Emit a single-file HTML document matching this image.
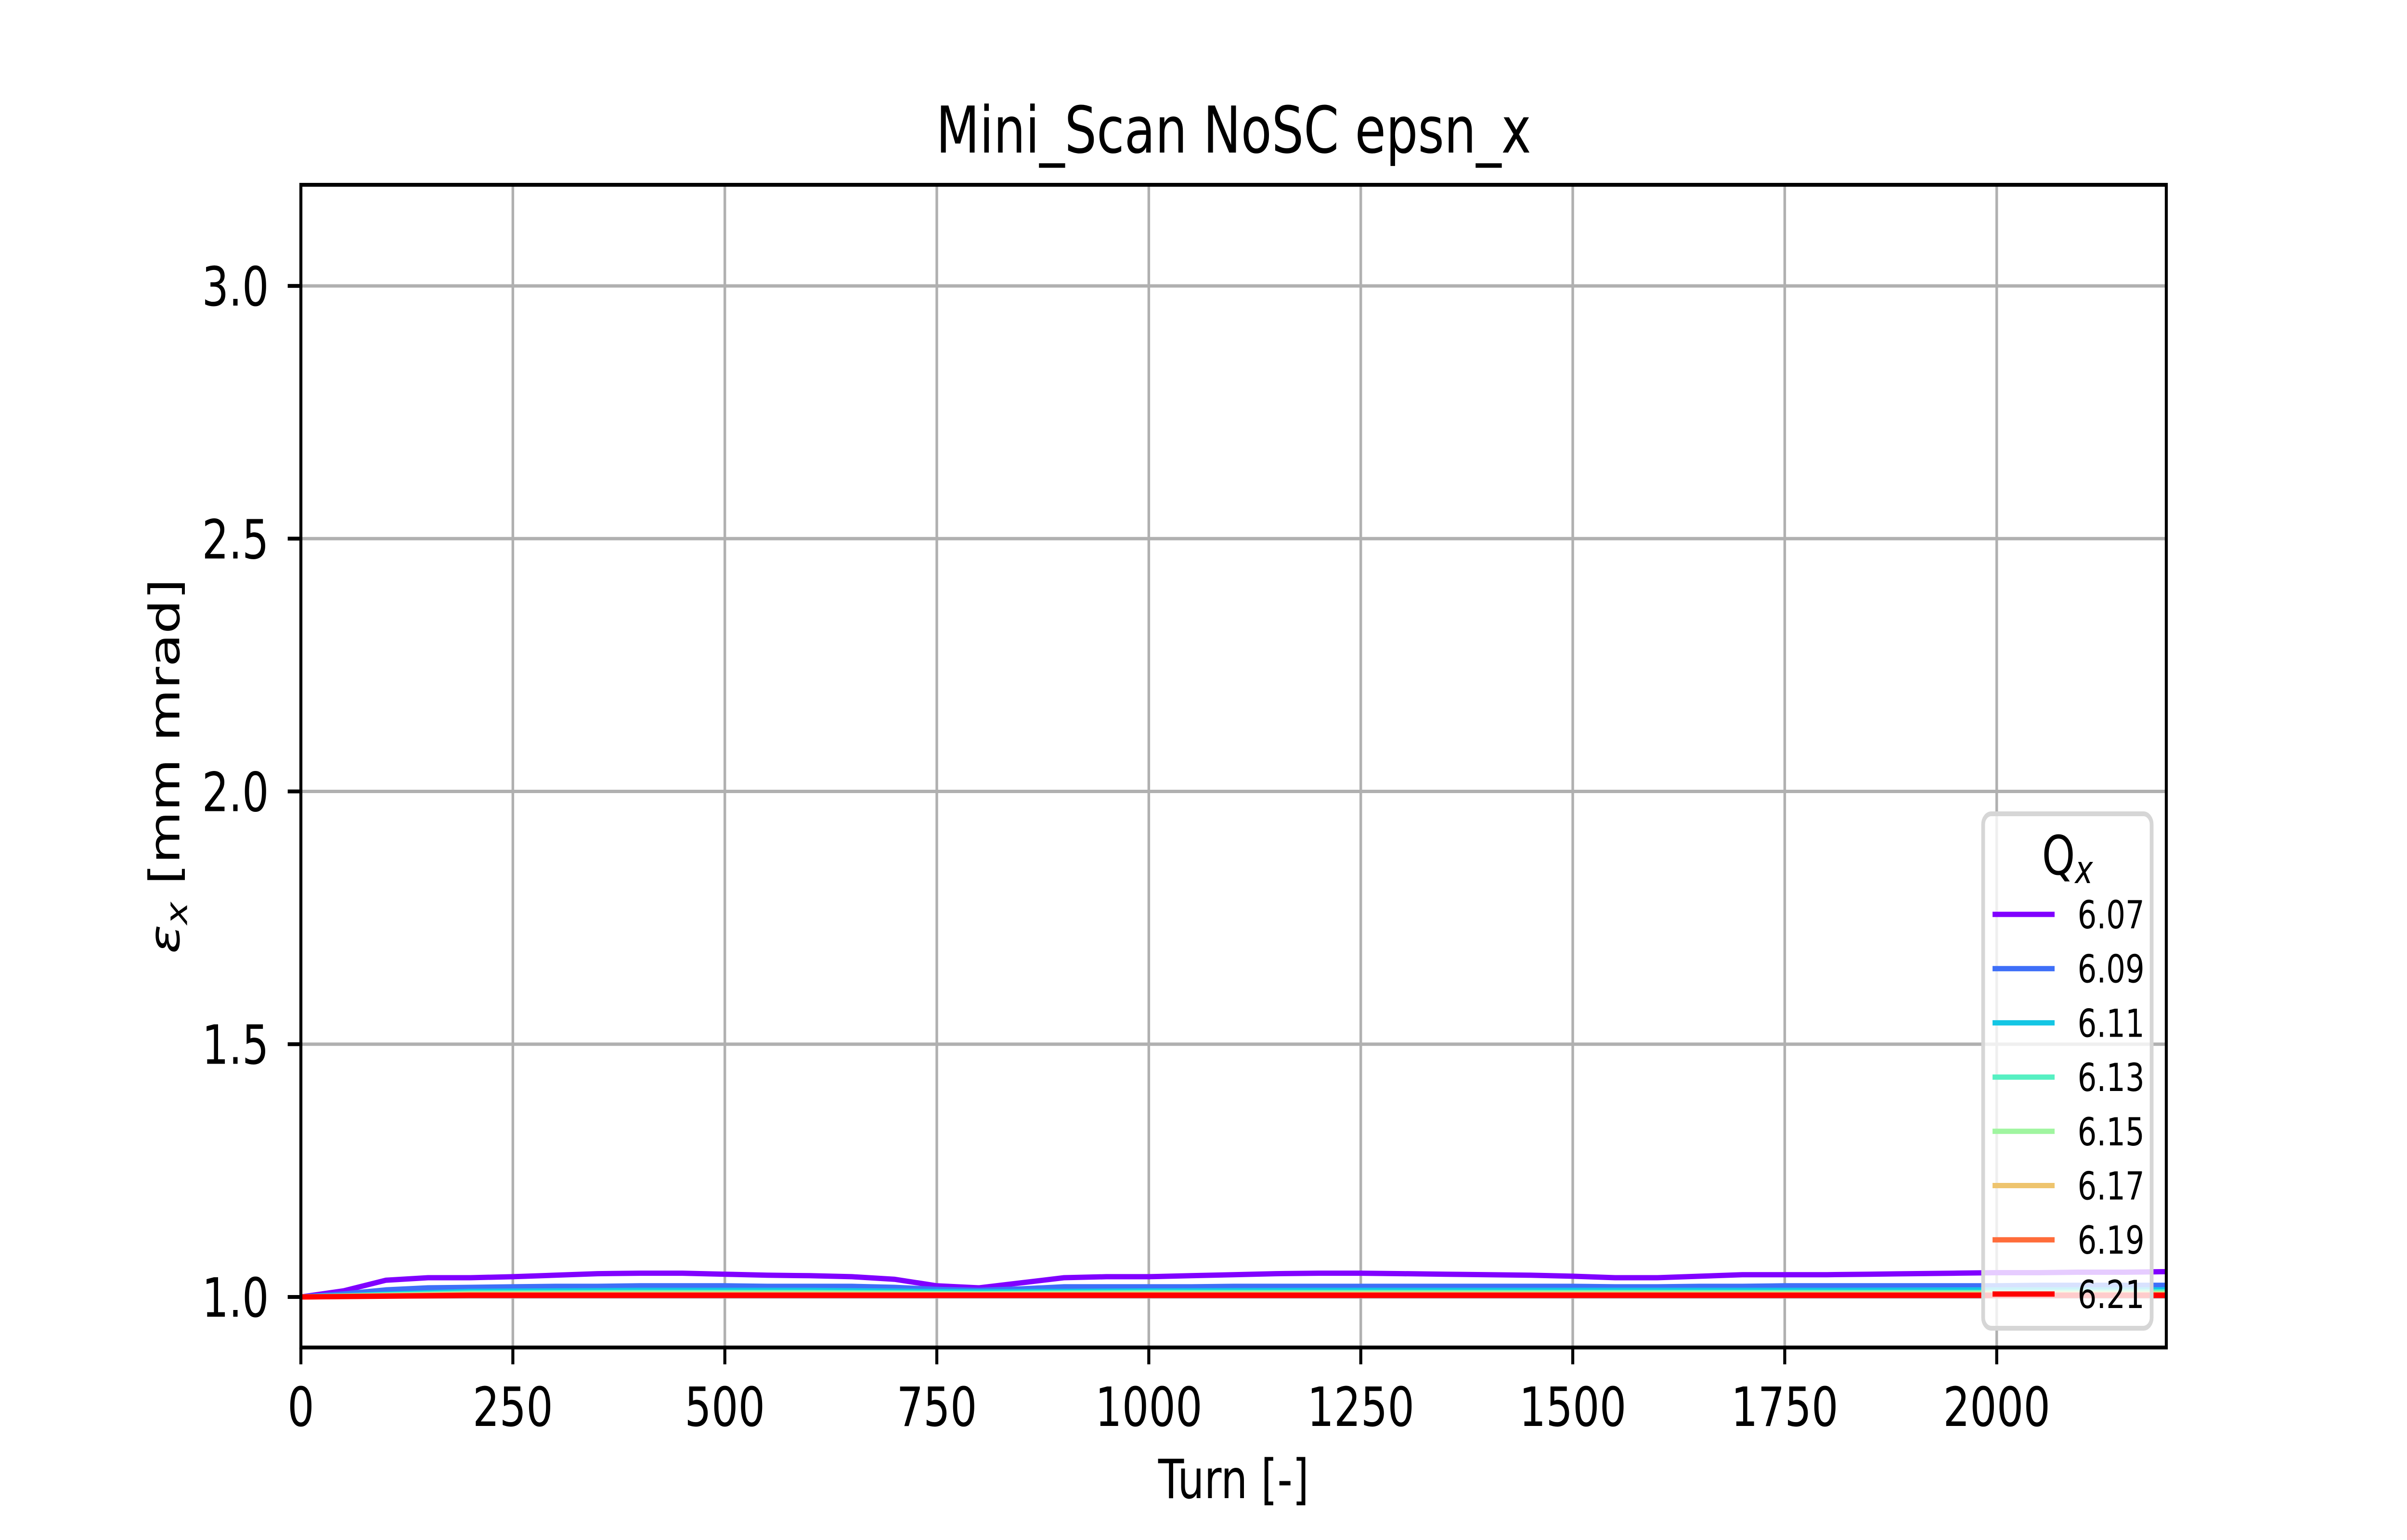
<!DOCTYPE html>
<html><head><meta charset="utf-8"><style>
html,body{margin:0;padding:0;background:#fff;width:100%;height:100%;overflow:hidden;}
svg{display:block;width:100vw;height:100vh;font-family:"DejaVu Sans","Liberation Sans",sans-serif;}
</style></head><body>
<svg id="chart" viewBox="0 0 6400 3200" preserveAspectRatio="none" xmlns="http://www.w3.org/2000/svg">
<rect x="0" y="0" width="6400" height="3200" fill="#fff"/>
<text x="3280" y="317" font-size="134" text-anchor="middle">Mini_Scan NoSC epsn_x</text>
<g id="grid"></g>
<g id="series"></g>
<rect x="800" y="384" width="4960" height="2416" fill="none" stroke="#000" stroke-width="8"/>
<g id="ticks"></g>
<text x="3280" y="3113" font-size="112" text-anchor="middle">Turn [-]</text>
<text transform="translate(477,1592) rotate(-90)" font-size="112" text-anchor="middle"><tspan font-style="italic">ε</tspan><tspan font-style="italic" font-size="80" dy="20">x</tspan><tspan dy="-20"> [mm mrad]</tspan></text>
<g id="legend"></g>
</svg>
<script>
const xTicks = [0, 250, 500, 750, 1000, 1250, 1500, 1750, 2000];
const yTicks = [1.0, 1.5, 2.0, 2.5, 3.0];
const yTickLabels = ["1.0", "1.5", "2.0", "2.5", "3.0"];
const seriesLabels = ["6.07", "6.09", "6.11", "6.13", "6.15", "6.17", "6.19", "6.21"];
const seriesColors = ["#8000ff", "#3e6ff8", "#14c6e4", "#56f0c2", "#a0f5a0", "#eec46e", "#ff6c3a", "#ff0000"];
const turnsFine = [0,50,100,150,200,250,300,350,400,450,500,550,600,650,700,750,800,850,900,950,1000,1050,1100,1150,1200,1250,1300,1350,1400,1450,1500,1550,1600,1650,1700,1750,1800,1850,1900,1950,2000,2050,2100,2150,2200];
const turnsCoarse = [0,200,400,600,800,1000,1200,1400,1600,1800,2000,2200];
const q607 = [1.0,1.012,1.033,1.038,1.038,1.040,1.043,1.046,1.047,1.047,1.045,1.043,1.042,1.040,1.035,1.022,1.018,1.028,1.038,1.040,1.040,1.042,1.044,1.046,1.047,1.047,1.046,1.045,1.044,1.043,1.041,1.038,1.038,1.041,1.044,1.044,1.044,1.045,1.046,1.047,1.048,1.048,1.049,1.049,1.050];
const q609 = [1.0,1.006,1.014,1.018,1.019,1.020,1.021,1.021,1.022,1.022,1.022,1.021,1.021,1.021,1.019,1.015,1.013,1.016,1.020,1.020,1.020,1.020,1.021,1.021,1.021,1.021,1.021,1.021,1.021,1.021,1.021,1.020,1.020,1.021,1.021,1.022,1.022,1.022,1.022,1.022,1.022,1.023,1.023,1.023,1.023];
const q611 = [1.0,1.011,1.013,1.013,1.010,1.012,1.013,1.013,1.013,1.013,1.014,1.014];
const q613 = [1.0,1.008,1.009,1.009,1.007,1.009,1.009,1.009,1.009,1.009,1.009,1.010];
const q615 = [1.0,1.006,1.007,1.007,1.006,1.007,1.007,1.007,1.007,1.007,1.007,1.007];
const q617 = [1.0,1.005,1.005,1.005,1.004,1.005,1.005,1.005,1.005,1.005,1.005,1.005];
const q619 = [1.0,1.004,1.004,1.004,1.004,1.004,1.004,1.004,1.004,1.004,1.004,1.004];
const q621 = [1.0,1.003,1.003,1.003,1.003,1.003,1.003,1.003,1.003,1.003,1.003,1.003];

const X0=800, X1=5760, Y0=384, Y1=2800, XMIN=0, XMAX=2200, YMIN=0.9, YMAX=3.2;
const NS="http://www.w3.org/2000/svg";
function sx(v){return X0+(v-XMIN)/(XMAX-XMIN)*(X1-X0);}
function sy(v){return Y1-(v-YMIN)/(YMAX-YMIN)*(Y1-Y0);}
function mk(tag,attrs,parent){const e=document.createElementNS(NS,tag);for(const k in attrs)e.setAttribute(k,attrs[k]);parent.appendChild(e);return e;}

const grid=document.getElementById('grid'), ticks=document.getElementById('ticks');
xTicks.forEach(t=>{
  const g=mk('line',{x1:sx(t),x2:sx(t),y1:Y0,y2:Y1,stroke:'#b0b0b0','stroke-width':7},grid);
  
  
  const tk=mk('line',{x1:sx(t),x2:sx(t),y1:Y1,y2:Y1+35,stroke:'#000','stroke-width':8},ticks);
  
  
  const lb=mk('text',{x:sx(t),y:2963,'font-size':112,'text-anchor':'middle'},ticks);
  lb.textContent=String(t);
  
  
});
yTicks.forEach((t,i)=>{
  const g=mk('line',{x1:X0,x2:X1,y1:sy(t),y2:sy(t),stroke:'#b0b0b0','stroke-width':7},grid);
  
  
  const tk=mk('line',{x1:X0-35,x2:X0,y1:sy(t),y2:sy(t),stroke:'#000','stroke-width':8},ticks);
  
  
  const lb=mk('text',{x:715,y:sy(t)+41,'font-size':112,'text-anchor':'end'},ticks);
  lb.textContent=yTickLabels[i];
  
  
});

const seriesData=[[turnsFine,q607],[turnsFine,q609],[turnsCoarse,q611],[turnsCoarse,q613],[turnsCoarse,q615],[turnsCoarse,q617],[turnsCoarse,q619],[turnsCoarse,q621]];
const sg=document.getElementById('series');
seriesData.forEach((d,i)=>{
  const pts=d[0].map((t,j)=>sx(t).toFixed(1)+','+sy(d[1][j]).toFixed(1)).join(' ');
  const p=mk('polyline',{points:pts,fill:'none',stroke:seriesColors[i],'stroke-width':11,'stroke-linejoin':'round'},sg);
  
  
});

const lg=document.getElementById('legend');
const box=mk('rect',{x:5273,y:1691,width:448,height:1069,rx:22,fill:'#fff','fill-opacity':0.8,stroke:'#d6d6d6','stroke-width':10},lg);


const ttl=mk('text',{x:5497,y:1817,'font-size':112,'text-anchor':'middle'},lg);
ttl.innerHTML='Q<tspan font-style="italic" font-size="80" dy="18">x</tspan>';


seriesLabels.forEach((s,i)=>{
  const y=1900+i*112.7;
  const ln=mk('line',{x1:5298,x2:5463,y1:y,y2:y,stroke:seriesColors[i],'stroke-width':11},lg);
  
  
  const tx=mk('text',{x:5524,y:y+29,'font-size':80},lg);
  tx.textContent=s;
  
  
});
</script>
</body></html>
